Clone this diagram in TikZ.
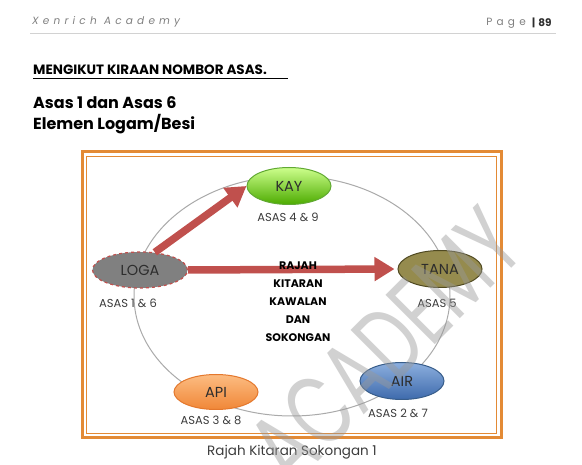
\documentclass[tikz,border=0pt]{standalone}
\usepackage{fontspec}
\setmainfont{Poppins}
\usetikzlibrary{shapes.geometric,arrows.meta}

\definecolor{frameOrange}{RGB}{227,138,53}
\definecolor{flowRed}{RGB}{192,80,77}
\definecolor{ringGrey}{RGB}{170,170,170}
\definecolor{textDark}{RGB}{45,45,45}
\definecolor{asasGrey}{RGB}{60,60,60}

\tikzset{
  elem/.style={ellipse, minimum width=84pt, minimum height=37pt, inner sep=0pt,
    line width=1pt, text=textDark, font=\fontsize{14.5}{14.5}\selectfont},
  asas/.style={text=asasGrey, font=\fontsize{11.5}{12}\selectfont},
  flow/.style={draw=flowRed, line width=7.5pt, -{Triangle[length=20pt,width=23pt]}},
  heading/.style={anchor=west, inner sep=0pt, text=black},
}

\begin{document}
\begin{tikzpicture}[x=1pt,y=-1pt]
\useasboundingbox[fill=white] (0,0) rectangle (582,465);

% page header
\node[heading, text=gray, font=\fontsize{10.5}{10}\itshape\addfontfeature{LetterSpace=40}] (hdr) at (32,22) {Xenrich Academy};
\node[anchor=east, inner sep=0pt, text=gray, font=\fontsize{10.5}{10}\selectfont\addfontfeature{LetterSpace=40}] (pg) at (526,23) {Page};
\node[anchor=west, inner sep=0pt, text=textDark, font=\fontsize{10.5}{10}\bfseries] (pgno) at ([xshift=6pt]pg.east) {|\hspace{3pt}89};
\draw[gray!35, line width=0.6pt] (30,33) -- (556,33);

% titles
\node[heading, font=\fontsize{13.5}{14}\bfseries] (title) at (33,70) {MENGIKUT KIRAAN NOMBOR ASAS.};
\draw[line width=0.9pt] (33,78.5) -- (288,78.5);
\node[heading, font=\fontsize{16}{16}\bfseries] (asas) at (33,103) {Asas 1 dan Asas 6};
\node[heading, font=\fontsize{16}{16}\bfseries] (elemen) at (33,124) {Elemen Logam/Besi};

% frame
\draw[frameOrange, line width=3pt] (82,152) rectangle (501,438);
\draw[frameOrange, line width=1pt] (86.5,156.5) rectangle (496.5,433.5);

% cycle
\draw[ringGrey, line width=1pt] (292,296) ellipse [x radius=158, y radius=120];

\node[elem, top color=green!25!lime!45!white, bottom color=green!45!black!60!lime, draw=green!40!black!70!lime!80!white] (kay) at (289,186) {KAY};
\node[elem, minimum width=95pt, minimum height=36pt, fill=gray, draw=flowRed, dashed, line width=1.2pt] (loga) at (140,270) {LOGA};
\node[elem, fill={rgb,255:red,149;green,139;blue,78}, draw={rgb,255:red,80;green,74;blue,34}] (tana) at (440,269) {TANA};
\node[elem, top color={rgb,255:red,140;green,175;blue,222}, bottom color={rgb,255:red,62;green,106;blue,172}, draw={rgb,255:red,56;green,93;blue,138}] (air) at (402,381) {AIR};
\node[elem, minimum height=35pt, top color={rgb,255:red,252;green,188;blue,130}, bottom color={rgb,255:red,240;green,135;blue,55}, draw={rgb,255:red,228;green,120;blue,45}] (api) at (216,392) {API};

\node[asas] (kayasas) at (288,217) {ASAS 4 \& 9};
\node[asas] (logaasas) at (128,303) {ASAS 1 \& 6};
\node[asas] (tanaasas) at (437,303) {ASAS 5};
\node[asas] (airasas) at (398,413) {ASAS 2 \& 7};
\node[asas] (apiasas) at (211,420) {ASAS 3 \& 8};

\draw[flow] (loga.50) -- (kay.west);
\draw[flow, shorten >=3pt] (loga.east) -- (tana.west);

\node[align=center, text=black, font=\fontsize{11}{18}\bfseries] (pusat) at (298,302)
  {RAJAH\\KITARAN\\KAWALAN\\DAN\\SOKONGAN};

\node[text=asasGrey, font=\fontsize{13.5}{13.5}\selectfont] (caption) at (292,452) {Rajah Kitaran Sokongan 1};

% watermark
\begin{scope}
\clip (0,0) rectangle (582,465);
\node[rotate=45, xscale=0.7, text=gray!80, opacity=0.45, font=\fontsize{100}{100}\selectfont] (wm) at (385,345) {ACADEMY};
\end{scope}
\end{tikzpicture}
\end{document}
